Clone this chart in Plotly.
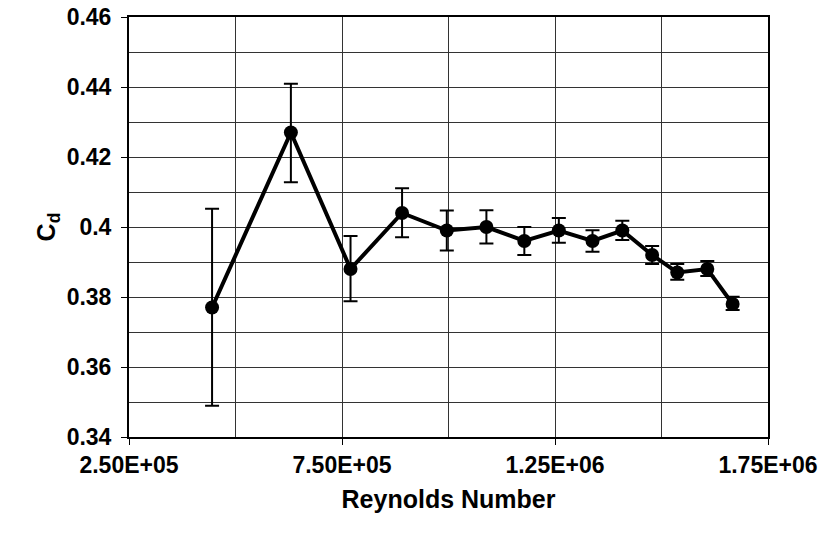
import plotly.graph_objects as go

# Reynolds number of each run
reynolds = [4.45e5, 6.30e5, 7.70e5, 8.91e5, 9.96e5, 1.089e6, 1.178e6,
            1.259e6, 1.338e6, 1.408e6, 1.478e6, 1.537e6, 1.6075e6, 1.667e6]
# Drag coefficient
cd = [0.377, 0.427, 0.388, 0.404, 0.399, 0.400, 0.396,
      0.399, 0.396, 0.399, 0.392, 0.387, 0.388, 0.378]
# Upper and lower error bar limits
cd_upper = [0.4052, 0.4409, 0.3974, 0.4111, 0.4047, 0.4048, 0.4000,
            0.4026, 0.3991, 0.4018, 0.3946, 0.3894, 0.3903, 0.3801]
cd_lower = [0.3489, 0.4128, 0.3788, 0.3971, 0.3933, 0.3953, 0.3920,
            0.3955, 0.3929, 0.3963, 0.3894, 0.3849, 0.3860, 0.3763]

x_tickvals = [2.5e5, 7.5e5, 1.25e6, 1.75e6]
x_ticktext = ["2.50E+05", "7.50E+05", "1.25E+06", "1.75E+06"]
y_tickvals = [0.34, 0.36, 0.38, 0.40, 0.42, 0.44, 0.46]
y_ticktext = ["0.34", "0.36", "0.38", "0.4", "0.42", "0.44", "0.46"]

err_plus = [u - c for u, c in zip(cd_upper, cd)]
err_minus = [c - l for c, l in zip(cd, cd_lower)]

fig = go.Figure()
fig.add_trace(go.Scatter(
    x=reynolds, y=cd, mode="lines+markers",
    line=dict(color="black", width=4),
    marker=dict(color="black", size=14),
    error_y=dict(type="data", symmetric=False, array=err_plus,
                 arrayminus=err_minus, color="black", thickness=2, width=7),
    showlegend=False,
))

family = "Liberation Sans, Arial, sans-serif"
tick_font = dict(family=family, size=23, color="black")
title_font = dict(family=family, size=25, color="black")

fig.update_layout(
    width=826, height=542,
    margin=dict(l=129, r=58, t=17, b=105),
    paper_bgcolor="white", plot_bgcolor="white",
    font=dict(family=family, color="black"),
    xaxis=dict(
        range=[2.5e5, 1.75e6], tickvals=x_tickvals,
        ticktext=[f"<b>{t}</b>" for t in x_ticktext],
        tickfont=tick_font, automargin=False,
        ticks="outside", ticklen=6, tickcolor="black", tickwidth=1,
        showgrid=True, gridcolor="#333333", gridwidth=1,
        minor=dict(dtick=2.5e5, tick0=2.5e5, showgrid=True, gridcolor="#333333", gridwidth=1),
        showline=True, linecolor="black", linewidth=2, mirror=True,
        zeroline=False,
        title=dict(text="<b>Reynolds Number</b>", standoff=14, font=title_font),
    ),
    yaxis=dict(
        range=[0.34, 0.46], tickvals=y_tickvals,
        ticktext=[f"<b>{t}</b>" for t in y_ticktext],
        tickfont=tick_font, automargin=False, ticklabelstandoff=5,
        ticks="outside", ticklen=6, tickcolor="black", tickwidth=1,
        showgrid=True, gridcolor="#333333", gridwidth=1,
        minor=dict(dtick=0.01, tick0=0.34, showgrid=True, gridcolor="#333333", gridwidth=1),
        showline=True, linecolor="black", linewidth=2, mirror=True,
        zeroline=False,
        title=dict(text="<b>C<sub>d</sub></b>", standoff=4, font=title_font),
    ),
)

fig.write_html("out.html")
